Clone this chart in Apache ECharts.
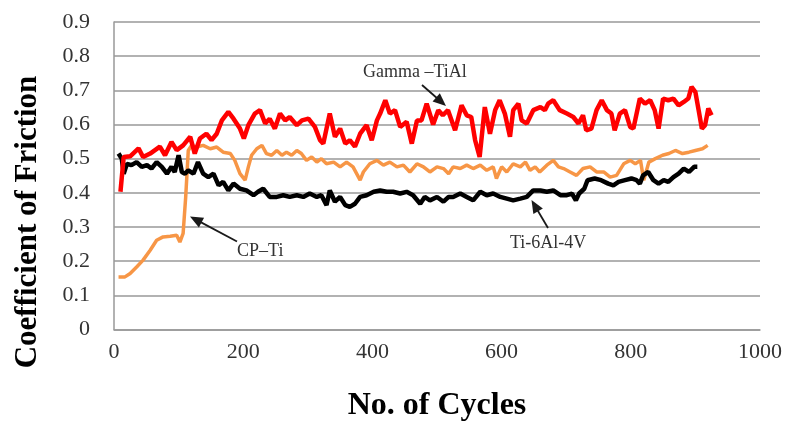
<!DOCTYPE html>
<html>
<head>
<meta charset="utf-8">
<script src="https://cdn.jsdelivr.net/npm/echarts@6/dist/echarts.min.js"></script>
<style>
html,body{margin:0;padding:0;background:#fff;}
#chart{width:787px;height:423px;}
</style>
</head>
<body>
<div id="chart"></div>
<script>
// ---- Data ----
var xTicks = [0, 200, 400, 600, 800, 1000];
var yTicks = [0, 0.1, 0.2, 0.3, 0.4, 0.5, 0.6, 0.7, 0.8, 0.9];

var gammaCycles = [10,15,25,38,45,56,71,79,89,97,107,118,125,133,143,151,159,167,177,185,195,201,208,218,226,234,241,249,257,265,272,283,291,301,311,319,324,334,342,350,358,365,373,381,391,399,407,412,420,427,435,443,453,461,469,476,484,494,502,509,517,528,538,546,553,559,566,574,582,590,597,605,613,618,626,631,639,649,660,667,672,680,690,701,711,719,726,731,739,747,755,763,770,775,783,791,799,804,814,822,830,837,843,850,858,866,874,882,889,894,900,905,910,915,920,925];
var gammaCof = [0.403,0.505,0.507,0.530,0.505,0.515,0.535,0.510,0.549,0.525,0.539,0.564,0.515,0.559,0.573,0.554,0.573,0.612,0.637,0.617,0.588,0.559,0.598,0.632,0.642,0.603,0.617,0.588,0.632,0.612,0.622,0.598,0.612,0.617,0.593,0.554,0.544,0.632,0.564,0.588,0.544,0.554,0.535,0.573,0.598,0.554,0.612,0.632,0.671,0.632,0.642,0.593,0.608,0.544,0.612,0.612,0.661,0.600,0.642,0.627,0.642,0.583,0.656,0.627,0.622,0.554,0.505,0.651,0.573,0.642,0.671,0.632,0.564,0.642,0.661,0.612,0.603,0.642,0.651,0.642,0.661,0.671,0.642,0.632,0.622,0.603,0.627,0.583,0.588,0.642,0.671,0.642,0.632,0.583,0.632,0.642,0.593,0.588,0.676,0.661,0.671,0.642,0.588,0.676,0.671,0.676,0.656,0.666,0.676,0.710,0.695,0.642,0.588,0.598,0.647,0.627];

var cpTiCycles = [7,17,25,35,45,56,66,76,87,97,102,107,111,115,120,128,138,149,159,169,180,187,195,203,208,213,221,229,236,244,252,260,267,275,283,290,298,306,314,321,329,340,350,360,370,381,386,396,407,417,427,438,448,458,469,479,489,500,510,518,525,536,546,556,567,577,587,592,600,608,618,629,637,644,652,659,670,680,688,696,706,716,726,737,747,758,768,778,789,799,807,815,820,828,838,849,859,869,880,890,900,911,919];
var cpTiCof = [0.154,0.154,0.164,0.183,0.203,0.232,0.261,0.271,0.273,0.276,0.256,0.281,0.388,0.524,0.539,0.534,0.539,0.529,0.534,0.519,0.515,0.495,0.456,0.437,0.476,0.510,0.529,0.539,0.515,0.510,0.524,0.510,0.519,0.510,0.524,0.515,0.495,0.505,0.490,0.500,0.485,0.490,0.476,0.490,0.476,0.437,0.461,0.485,0.495,0.481,0.490,0.476,0.481,0.461,0.485,0.476,0.461,0.476,0.471,0.456,0.476,0.471,0.481,0.471,0.481,0.466,0.476,0.442,0.476,0.461,0.485,0.476,0.490,0.466,0.476,0.461,0.481,0.495,0.476,0.471,0.461,0.451,0.471,0.476,0.461,0.461,0.446,0.451,0.485,0.495,0.485,0.495,0.437,0.490,0.500,0.510,0.515,0.524,0.515,0.519,0.524,0.529,0.539];

var ti64Cycles = [7,12,15,20,27,35,43,51,58,66,74,82,89,94,100,105,110,115,123,130,138,146,154,162,169,177,185,195,205,216,223,231,241,252,262,272,283,293,303,314,321,329,334,342,350,358,365,373,381,391,402,412,422,432,443,453,463,474,481,489,500,510,518,525,536,546,556,567,577,587,598,608,618,629,639,649,660,670,680,691,701,709,715,720,728,733,744,754,765,773,781,791,801,809,814,819,827,835,843,851,858,866,874,882,890,898,903];
var ti64Cof = [0.515,0.500,0.456,0.485,0.481,0.490,0.476,0.481,0.471,0.490,0.476,0.456,0.476,0.461,0.510,0.461,0.456,0.466,0.456,0.490,0.456,0.446,0.456,0.422,0.432,0.407,0.427,0.412,0.407,0.393,0.403,0.412,0.388,0.388,0.393,0.388,0.393,0.388,0.398,0.388,0.393,0.364,0.407,0.374,0.388,0.364,0.359,0.368,0.388,0.393,0.403,0.407,0.403,0.403,0.398,0.403,0.393,0.368,0.388,0.378,0.388,0.374,0.388,0.388,0.398,0.388,0.378,0.403,0.393,0.398,0.388,0.383,0.378,0.383,0.388,0.407,0.407,0.403,0.407,0.393,0.393,0.398,0.378,0.398,0.412,0.437,0.442,0.437,0.427,0.422,0.432,0.437,0.442,0.437,0.427,0.451,0.461,0.437,0.427,0.437,0.432,0.446,0.456,0.471,0.461,0.476,0.476];

function pairs(xs, ys) { return xs.map(function (x, i) { return [x, ys[i]]; }); }

// ---- Annotation helpers (pixel graphics) ----
function arrow(x1, y1, x2, y2) {
  var dx = x2 - x1, dy = y2 - y1, L = Math.sqrt(dx*dx + dy*dy);
  var ux = dx / L, uy = dy / L, hl = 13, hw = 5.5;
  var bx = x2 - ux * hl, by = y2 - uy * hl;
  return [
    { type: 'line', shape: { x1: x1, y1: y1, x2: bx + ux * 2, y2: by + uy * 2 },
      style: { stroke: '#1a1a1a', lineWidth: 1.8 }, z: 100 },
    { type: 'polygon', shape: { points: [[x2, y2], [bx - uy * hw, by + ux * hw], [bx + uy * hw, by - ux * hw]] },
      style: { fill: '#1a1a1a' }, z: 100 }
  ];
}
function label(text, x, y) {
  return { type: 'text', x: x, y: y, z: 100,
    style: { text: text, fill: '#333', font: '18px "Liberation Serif"', textVerticalAlign: 'middle', textAlign: 'left' } };
}

var graphics = []
  .concat([label('Gamma \u2013TiAl', 363, 72)], arrow(422, 85, 446, 106))
  .concat([label('CP\u2013Ti', 237, 251)], arrow(237, 241.5, 190, 216.5))
  .concat([label('Ti-6Al-4V', 510, 243)], arrow(548, 228, 531.5, 200))
  .concat([
    { type: 'text', x: 28, y: 222, rotation: Math.PI / 2, z: 100,
      style: { text: 'Coefficient of Friction', fill: '#000', font: 'bold 31px "Liberation Serif"', textAlign: 'center', textVerticalAlign: 'middle' } },
    { type: 'text', x: 437, y: 406, z: 100,
      style: { text: 'No. of Cycles', fill: '#000', font: 'bold 32px "Liberation Serif"', textAlign: 'center', textVerticalAlign: 'middle' } }
  ]);

var chart = echarts.init(document.getElementById('chart'), null, { renderer: 'canvas' });
chart.setOption({
  animation: false,
  backgroundColor: '#fff',
  textStyle: { fontFamily: 'Liberation Serif' },
  grid: { left: 114, right: 27, top: 22, bottom: 93.5, containLabel: false, outerBoundsMode: 'none' },
  xAxis: {
    type: 'value', min: xTicks[0], max: xTicks[xTicks.length - 1], interval: 200,
    axisLine: { show: true, lineStyle: { color: '#999', width: 1.5 } },
    axisTick: { show: false },
    splitLine: { show: false },
    axisLabel: { color: '#333', fontSize: 22, fontFamily: 'Liberation Serif', margin: 12,
      formatter: function (v) { return String(Math.round(v)); } }
  },
  yAxis: {
    type: 'value', min: yTicks[0], max: yTicks[yTicks.length - 1], interval: 0.1,
    axisLine: { show: true, lineStyle: { color: '#999', width: 1.5 } },
    axisTick: { show: false },
    splitLine: { show: true, lineStyle: { color: '#999', width: 1.5 } },
    axisLabel: { color: '#333', fontSize: 22, fontFamily: 'Liberation Serif', margin: 24,
      formatter: function (v) { return String(Math.round(v * 10) / 10); } }
  },
  series: [
    { name: 'CP-Ti', type: 'line', data: pairs(cpTiCycles, cpTiCof), showSymbol: false,
      lineStyle: { color: '#F79646', width: 3.5 }, z: 2 },
    { name: 'Ti-6Al-4V', type: 'line', data: pairs(ti64Cycles, ti64Cof), showSymbol: false,
      lineStyle: { color: '#000000', width: 4.5 }, z: 3 },
    { name: 'Gamma-TiAl', type: 'line', data: pairs(gammaCycles, gammaCof), showSymbol: false,
      lineStyle: { color: '#FF0000', width: 4.5 }, z: 4 }
  ],
  graphic: graphics
});
</script>
</body>
</html>
